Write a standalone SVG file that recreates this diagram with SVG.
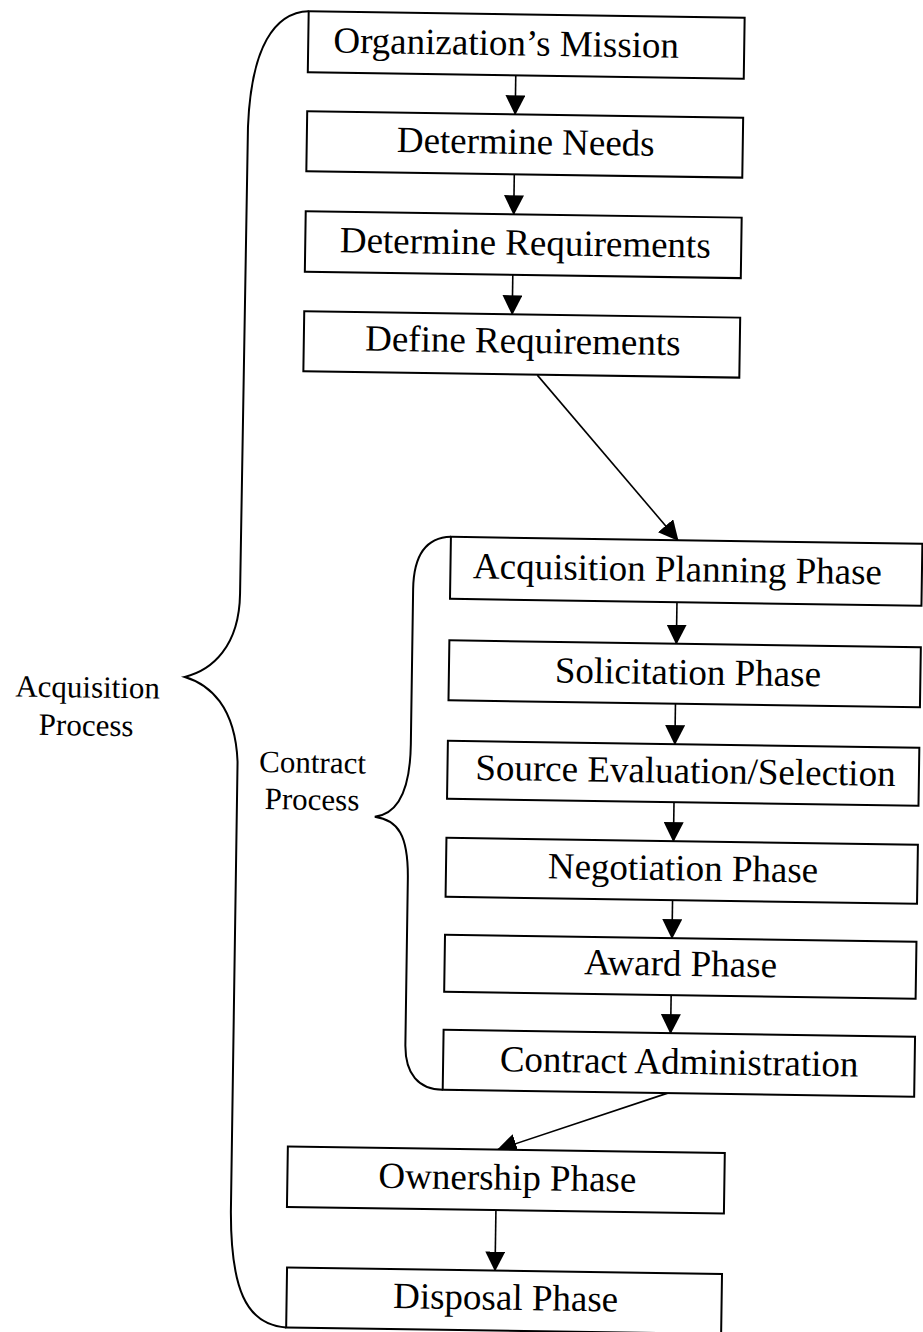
<svg xmlns="http://www.w3.org/2000/svg" width="923" height="1332" viewBox="0 0 923 1332">
<style>
.box{fill:#fff;stroke:#000;stroke-width:2}
.t{font-family:"Liberation Serif","Times New Roman",serif;font-size:37px;fill:#000;text-anchor:middle}
.lbl{font-family:"Liberation Serif","Times New Roman",serif;font-size:31px;fill:#000;text-anchor:middle}
.con{fill:none;stroke:#000;stroke-width:1.6}
.brace{fill:none;stroke:#000;stroke-width:2}
</style>
<defs>
<marker id="ah" markerUnits="userSpaceOnUse" markerWidth="20" markerHeight="20" refX="19" refY="10" orient="auto" viewBox="0 0 20 20">
<path d="M0,0 L20,10 L0,20 Z" fill="#000"/>
</marker>
</defs>
<rect width="923" height="1332" fill="#fff"/>
<g transform="rotate(0.85 460 666)">
<g id="braces">
<path class="brace" d="M299,13.5 C265,15 242,50 240,130 L239,597 C239,650 212,674 185,681 C210,688 236,710 239,765 L239,1215 C240,1290 255,1328 296,1330"/>
<path class="brace" d="M449,537 C425,538 412,555 412,590 L412,745 C412,790 400,815 377,818 C400,821 411,835 411,880 L411,1045 C411,1075 425,1090 449,1090"/>
</g>
<g id="labels">
<text class="lbl" x="88" y="703">Acquisition</text>
<text class="lbl" x="87" y="741">Process</text>
<text class="lbl" x="314" y="775">Contract</text>
<text class="lbl" x="314" y="812">Process</text>
</g>
<g id="connectors">
<line class="con" x1="507" y1="74.5" x2="507" y2="113.5" marker-end="url(#ah)"/>
<line class="con" x1="507" y1="173.5" x2="507" y2="213.5" marker-end="url(#ah)"/>
<line class="con" x1="507" y1="274" x2="507" y2="313.5" marker-end="url(#ah)"/>
<line class="con" x1="533" y1="374" x2="676" y2="537" marker-end="url(#ah)"/>
<line class="con" x1="676" y1="599" x2="676" y2="640.5" marker-end="url(#ah)"/>
<line class="con" x1="676" y1="700.5" x2="676" y2="741" marker-end="url(#ah)"/>
<line class="con" x1="676" y1="799" x2="676" y2="838" marker-end="url(#ah)"/>
<line class="con" x1="676" y1="897" x2="676" y2="935" marker-end="url(#ah)"/>
<line class="con" x1="676" y1="992" x2="676" y2="1030" marker-end="url(#ah)"/>
<line class="con" x1="674" y1="1090" x2="505" y2="1149" marker-end="url(#ah)"/>
<line class="con" x1="504" y1="1209.5" x2="504" y2="1270" marker-end="url(#ah)"/>
</g>
<g id="n-mission"><rect class="box" x="299" y="13.5" width="436" height="61"/><text class="t" x="497" y="54.5">Organization’s Mission</text></g>
<g id="n-needs"><rect class="box" x="299" y="113.5" width="436" height="60"/><text class="t" x="518" y="153">Determine Needs</text></g>
<g id="n-detreq"><rect class="box" x="299" y="213.5" width="436" height="60.5"/><text class="t" x="519" y="254">Determine Requirements</text></g>
<g id="n-defreq"><rect class="box" x="299" y="313.5" width="436" height="60"/><text class="t" x="518" y="352">Define Requirements</text></g>
<g id="n-acqplan"><rect class="box" x="449" y="537" width="471.5" height="62"/><text class="t" x="676" y="578">Acquisition Planning Phase</text></g>
<g id="n-solicit"><rect class="box" x="449" y="640.5" width="471.5" height="60"/><text class="t" x="688" y="681">Solicitation Phase</text></g>
<g id="n-source"><rect class="box" x="449" y="741" width="471.5" height="58"/><text class="t" x="687" y="779.5">Source Evaluation/Selection</text></g>
<g id="n-negot"><rect class="box" x="449" y="838" width="471.5" height="59"/><text class="t" x="686" y="877">Negotiation Phase</text></g>
<g id="n-award"><rect class="box" x="449" y="935" width="471.5" height="57"/><text class="t" x="685" y="972.5">Award Phase</text></g>
<g id="n-contadmin"><rect class="box" x="449" y="1030" width="471.5" height="60"/><text class="t" x="685" y="1070.5">Contract Administration</text></g>
<g id="n-owner"><rect class="box" x="295" y="1149" width="437" height="60.5"/><text class="t" x="515" y="1189">Ownership Phase</text></g>
<g id="n-disposal"><rect class="box" x="296" y="1270" width="435" height="60"/><text class="t" x="515" y="1309">Disposal Phase</text></g>
</g>
</svg>
